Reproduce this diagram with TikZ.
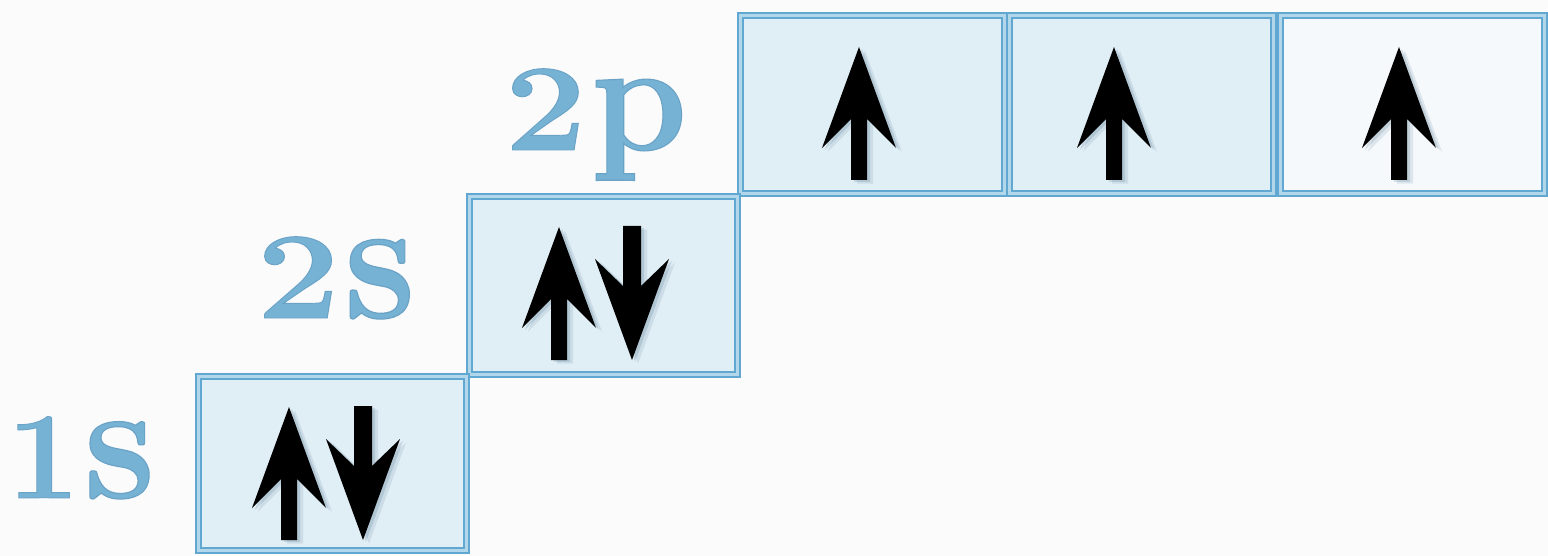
\documentclass[tikz,border=0pt]{standalone}
\usepackage{fontspec}
\definecolor{bordc}{RGB}{96,168,210}
\definecolor{boxfill}{RGB}{224,238,245}
\definecolor{boxfilllight}{RGB}{245,249,252}
\definecolor{innerl}{RGB}{178,214,234}
\definecolor{labc}{RGB}{118,178,212}
\definecolor{bgc}{RGB}{251,251,251}
\definecolor{arrsh}{RGB}{60,100,130}
% digit, letter, digit xscale, letter xscale, letter yscale
\newcommand{\orbglyph}[1]{\special{pdf:literal direct 2 Tr 0.9 w 0.42 0.64 0.78 RG}#1\special{pdf:literal direct 0 Tr}}
\newcommand{\orblabel}[5]{\scalebox{#3}[1]{\orbglyph{#1}}\hspace{4pt}\scalebox{#4}[#5]{\orbglyph{#2}}}
\tikzset{
  orb/.style={rectangle, draw=bordc, line width=2.6pt, double=innerl, double distance=2.4pt,
    fill=boxfill, minimum width=268pt, minimum height=174pt, inner sep=0pt},
  lab/.style={font=\fontsize{124}{124}\selectfont\bfseries, text=labc, inner sep=0pt, anchor=base},
  upspin/.pic={
    \foreach \d/\o in {3/0.18,6/0.12}{
      \fill[arrsh, opacity=\o, shift={(\d,\d*0.6)}] (0,0) -- (37,101) -- (8,72) -- (8,133) -- (-8,133) -- (-8,72) -- (-37,101) -- cycle;}
    \fill[black] (0,0) -- (37,101) -- (8,72) -- (8,133) -- (-8,133) -- (-8,72) -- (-37,101) -- cycle;
  },
  downspin/.pic={
    \foreach \d/\o in {3/0.18,6/0.12}{
      \fill[arrsh, opacity=\o, shift={(\d,\d*0.6)}] (0,0) -- (37,-101) -- (9,-74) -- (9,-134) -- (-9,-134) -- (-9,-74) -- (-37,-101) -- cycle;}
    \fill[black] (0,0) -- (37,-101) -- (9,-74) -- (9,-134) -- (-9,-134) -- (-9,-74) -- (-37,-101) -- cycle;
  },
}
\begin{document}
\begin{tikzpicture}[x=1pt,y=-1pt]
\useasboundingbox (0,0) rectangle (1548,556);
\fill[bgc] (0,0) rectangle (1548,556);
% orbital boxes
\node[orb, minimum width=264pt, minimum height=178pt] (p1) at (872.5,104.5) {};
\node[orb, minimum width=264pt, minimum height=178pt] (p2) at (1141.5,104.5) {};
\node[orb, minimum width=264pt, minimum height=178pt, fill=boxfilllight] (p3) at (1412.5,104.5) {};
\node[orb, minimum height=178pt] (s2) at (603.5,285.5) {};
\node[orb] (s1) at (332.5,463.5) {};
% labels
\node[lab] (l1s) at (81,498) {\orblabel{1}{s}{1.05}{1.3}{1.36}};
\node[lab] (l2s) at (336,318) {\orblabel{2}{s}{1.2}{1.3}{1.4}};
\node[lab] (l2p) at (596,150) {\orblabel{2}{p}{1.18}{1.25}{1.27}};
% electrons
\pic at (289,407) {upspin};
\pic at (363,540) {downspin};
\pic at (559,227) {upspin};
\pic at (632,360) {downspin};
\pic at (859,47) {upspin};
\pic at (1114,47) {upspin};
\pic at (1399,47) {upspin};
\end{tikzpicture}
\end{document}
